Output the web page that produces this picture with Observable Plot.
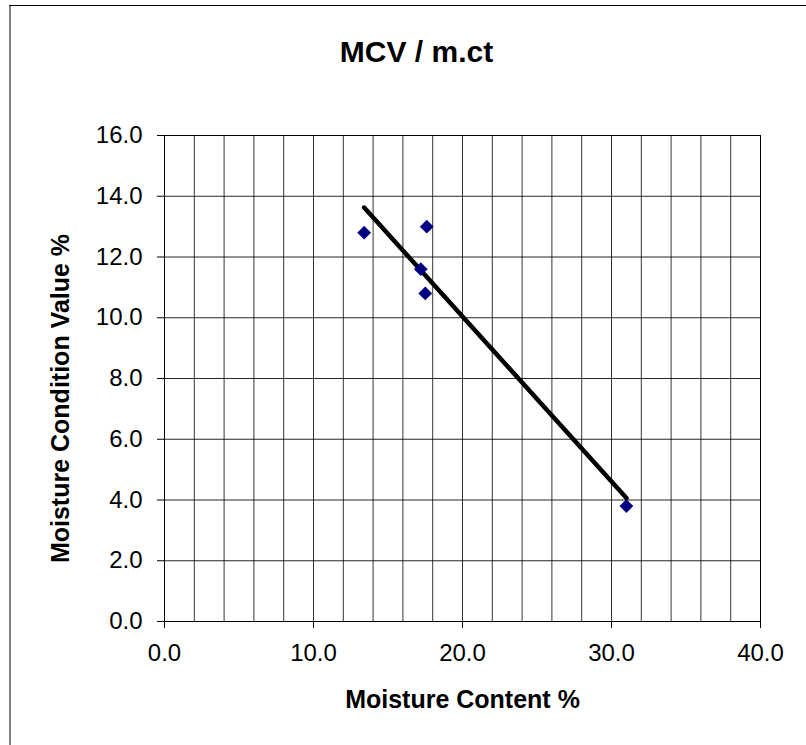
<!DOCTYPE html>
<html>
<head>
<meta charset="utf-8">
<script src="https://cdn.jsdelivr.net/npm/d3@7"></script>
<script src="https://cdn.jsdelivr.net/npm/@observablehq/plot@0.6"></script>
<style>
  html, body { margin: 0; padding: 0; background: #fff; }
  #chart { position: relative; width: 806px; height: 745px; overflow: hidden; }
  #chart svg { display: block; }
</style>
</head>
<body>
<div id="chart"></div>
<script>
const title = "MCV / m.ct";
const xLabel = "Moisture Content %";
const yLabel = "Moisture Condition Value %";
const moistureContent = [13.4, 17.6, 17.2, 17.5, 31.0];
const mcv = [12.8, 13.0, 11.6, 10.8, 3.8];
const xTicks = [0, 10, 20, 30, 40];
const yTicks = [0, 2, 4, 6, 8, 10, 12, 14, 16];
const xGrid = [0, 2, 4, 6, 8, 10, 12, 14, 16, 18, 20, 22, 24, 26, 28, 30, 32, 34, 36, 38, 40];
const yGrid = [0, 2, 4, 6, 8, 10, 12, 14, 16];

const data = moistureContent.map((x, i) => ({x, y: mcv[i]}));

const font = "Arial, 'Liberation Sans', sans-serif";

const plot = Plot.plot({
  width: 806,
  height: 745,
  marginLeft: 164,
  marginRight: 46,
  marginTop: 135,
  marginBottom: 124,
  style: {fontFamily: font, fontSize: "24px", color: "#000", background: "#fff"},
  x: {domain: [0, 40], label: null},
  y: {domain: [0, 16], label: null},
  marks: [
    Plot.gridX(xGrid, {stroke: "#000", strokeOpacity: 0.8, strokeWidth: 1}),
    Plot.gridY(yGrid, {stroke: "#000", strokeOpacity: 0.85, strokeWidth: 1}),
    Plot.frame({stroke: "#000", strokeWidth: 1}),
    Plot.axisX(xTicks, {tickSize: 7, tickPadding: 15, tickFormat: d => d.toFixed(1), fontSize: 24}),
    Plot.axisY(yTicks, {tickSize: 7, tickPadding: 15, tickFormat: d => d.toFixed(1), fontSize: 24}),
    Plot.linearRegressionY(data, {x: "x", y: "y", ci: 0, stroke: "#000", strokeWidth: 4.5}),
    Plot.dot(data, {x: "x", y: "y", symbol: "diamond2", r: 6.2, fill: "#000080", stroke: "none"}),
    Plot.text([title], {frameAnchor: "top-left", dx: 416 - 164, dy: -95, lineAnchor: "top", text: d => d, textAnchor: "middle", fontWeight: "bold", fontSize: 30}),
    Plot.text([xLabel], {frameAnchor: "bottom", dy: 69, lineAnchor: "top", text: d => d, fontWeight: "bold", fontSize: 25}),
    Plot.text([yLabel], {frameAnchor: "left", dx: -104, dy: 20, rotate: -90, textAnchor: "middle", text: d => d, fontWeight: "bold", fontSize: 25})
  ]
});

const chart = document.getElementById("chart");
chart.appendChild(plot);
// outer chart-area border (Excel style): black top edge, grey left edge
const svg = d3.select(plot);
svg.insert("line", ":first-child")
  .attr("x1", 9).attr("x2", 806).attr("y1", 5.5).attr("y2", 5.5)
  .attr("stroke", "#000").attr("stroke-width", 1);
svg.insert("line", ":first-child")
  .attr("x1", 10).attr("x2", 10).attr("y1", 5).attr("y2", 745)
  .attr("stroke", "#808080").attr("stroke-width", 2);
</script>
</body>
</html>
